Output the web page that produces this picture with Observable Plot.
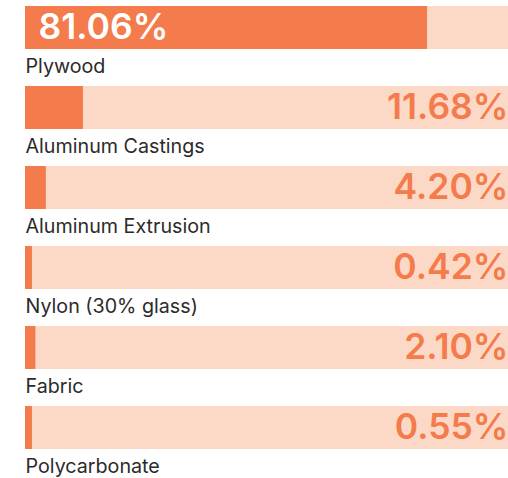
<!DOCTYPE html>
<html>
<head>
<meta charset="utf-8">
<script src="https://cdn.jsdelivr.net/npm/d3@7"></script>
<script src="https://cdn.jsdelivr.net/npm/@observablehq/plot@0.6"></script>
<style>
  html, body { margin: 0; padding: 0; background: white; overflow: hidden; }
</style>
</head>
<body>
<div id="chart"></div>
<script>
const materials = ["Plywood", "Aluminum Castings", "Aluminum Extrusion", "Nylon (30% glass)", "Fabric", "Polycarbonate"];
const shares = [81.06, 11.68, 4.20, 0.42, 2.10, 0.55];
const shareLabels = ["81.06%", "11.68%", "4.20%", "0.42%", "2.10%", "0.55%"];

const data = materials.map((m, i) => ({material: m, value: shares[i], label: shareLabels[i]}));
const minShown = 1.4; // smallest visible bar length, in %

const fg = "#f47b4b";
const bg = "#fcd9c6";

const chart = Plot.plot({
  width: 508,
  height: 478,
  marginLeft: 25,
  marginRight: 0,
  marginTop: 0,
  marginBottom: 0,
  style: {overflow: "hidden", fontFamily: "Inter, sans-serif"},
  x: {domain: [0, 100], range: [25, 521], axis: null},
  y: {type: "band", domain: materials, range: [6, 486], padding: 0, axis: null},
  marks: [
    Plot.barX(data, {y: "material", x1: 0, x2: 100, fill: bg, insetBottom: 37}),
    Plot.barX(data, {y: "material", x1: 0, x2: d => Math.max(d.value, minShown), fill: fg, insetBottom: 37}),
    Plot.text(data, {y: "material", text: "material", frameAnchor: "left", textAnchor: "start", dy: 20.5, fontSize: 19.7, fill: "#2b2b2b", lineAnchor: "middle"}),
    Plot.text(data.filter(d => d.value > 50), {y: "material", text: "label", x: 0, dx: 13, textAnchor: "start", dy: -18.5, fontSize: 35.5, fontWeight: 600, fill: "white", lineAnchor: "middle"}),
    Plot.text(data.filter(d => d.value <= 50), {y: "material", text: "label", frameAnchor: "right", dx: 0, textAnchor: "end", dy: -18.5, fontSize: 35.5, fontWeight: 600, fill: fg, lineAnchor: "middle"})
  ]
});
document.getElementById("chart").appendChild(chart);
</script>
</body>
</html>
